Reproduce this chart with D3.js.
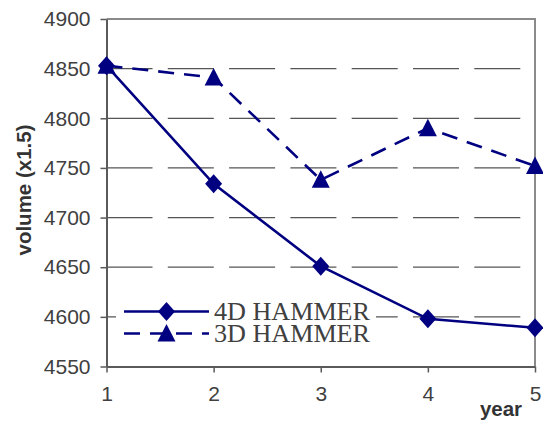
<!DOCTYPE html>
<html><head><meta charset="utf-8">
<script src="https://cdn.jsdelivr.net/npm/d3@7"></script>
<style>html,body{margin:0;padding:0;background:#fff;}svg{display:block;}</style>
</head><body>
<script>
const years = [1, 2, 3, 4, 5];
const hammer4D = [4853, 4734, 4651, 4598, 4589];
const hammer3D = [4853, 4841, 4738, 4790, 4752];
const yTicks = [4550, 4600, 4650, 4700, 4750, 4800, 4850, 4900];
const seriesNames = ["4D HAMMER", "3D HAMMER"];

const W = 543, H = 423;
const svg = d3.select("body").append("svg").attr("width", W).attr("height", H);
const x = d3.scaleLinear().domain([1, 5]).range([106.5, 535]);
const y = d3.scaleLinear().domain([4550, 4900]).range([366.5, 19]);
const navy = "#000080";

// gridlines
svg.append("g").selectAll("line").data(yTicks.filter(v => v > 4550 && v < 4900)).join("line")
  .attr("x1", x(1)).attr("x2", x(5)).attr("y1", d => y(d)).attr("y2", d => y(d))
  .attr("stroke", "#555").attr("stroke-width", 1.3).attr("stroke-dasharray", "46,15.3");

// top & right frame
svg.append("path").attr("d", `M${x(1)},${y(4900)}H${x(5)}V${y(4550)}`)
  .attr("fill", "none").attr("stroke", "#8a8a8a").attr("stroke-width", 2);

// axes
const yAxis = d3.axisLeft(y).tickValues(yTicks).tickFormat(d3.format("d")).tickSize(6).tickSizeOuter(0).tickPadding(10);
const gy = svg.append("g").attr("transform", `translate(${x(1)},0)`).call(yAxis);
const xAxis = d3.axisBottom(x).tickValues(years).tickFormat(d3.format("d")).tickSize(6).tickSizeOuter(0).tickPadding(14);
const gx = svg.append("g").attr("transform", `translate(0,${y(4550)})`).call(xAxis);
[gx, gy].forEach(g => {
  g.select(".domain").attr("stroke", "#5a5a5a").attr("stroke-width", 2);
  g.selectAll(".tick line").attr("stroke", "#5a5a5a").attr("stroke-width", 1.5);
  g.selectAll("text").attr("font-family", "Liberation Sans, Arial, sans-serif")
    .attr("font-size", 21).attr("fill", "#404040");
});

// axis titles
svg.append("text").attr("transform", "translate(31,190) rotate(-90)")
  .attr("text-anchor", "middle").attr("font-family", "Liberation Sans, Arial, sans-serif")
  .attr("font-weight", "bold").attr("font-size", 20.5).attr("fill", "#333").text("volume (x1.5)");
svg.append("text").attr("x", 501).attr("y", 416)
  .attr("text-anchor", "middle").attr("font-family", "Liberation Sans, Arial, sans-serif")
  .attr("font-weight", "bold").attr("font-size", 20.5).attr("fill", "#333").text("year");

const line = d3.line().x((d, i) => x(years[i])).y(d => y(d));
const diamond = "M0,-9.5L8.5,0L0,9.5L-8.5,0Z";
const triangle = "M0,-9.5L9,8L-9,8Z";

// legend background
svg.append("rect").attr("x", 116).attr("y", 294).attr("width", 260).attr("height", 52).attr("fill", "#fff");

const series = [
  { name: seriesNames[0], vals: hammer4D, dash: null, shape: diamond },
  { name: seriesNames[1], vals: hammer3D, dash: "16,10", shape: triangle }
];
series.slice().reverse().forEach(s => {
  svg.append("path").attr("d", line(s.vals)).attr("fill", "none").attr("stroke", navy)
    .attr("stroke-width", 2.6).attr("stroke-dasharray", s.dash);
});
series.forEach(s => {
  svg.append("g").selectAll("path").data(s.vals).join("path")
    .attr("transform", (d, i) => `translate(${x(years[i])},${y(d)})`)
    .attr("d", s.shape).attr("fill", navy);
});

// legend
const legY = [311.5, 333.5];
series.forEach((s, i) => {
  const g = svg.append("g");
  g.append("line").attr("x1", 124).attr("x2", 209).attr("y1", legY[i]).attr("y2", legY[i])
    .attr("stroke", navy).attr("stroke-width", 2.6).attr("stroke-dasharray", s.dash);
  g.append("path").attr("transform", `translate(166.5,${legY[i]})`).attr("d", s.shape).attr("fill", navy);
  g.append("text").attr("x", 214).attr("y", legY[i] + 8.5)
    .attr("font-family", "Liberation Serif, Times New Roman, serif").attr("font-size", 24.5)
    .attr("textLength", 156).attr("lengthAdjust", "spacingAndGlyphs")
    .attr("fill", "#404040").text(s.name);
});
</script>
</body></html>
